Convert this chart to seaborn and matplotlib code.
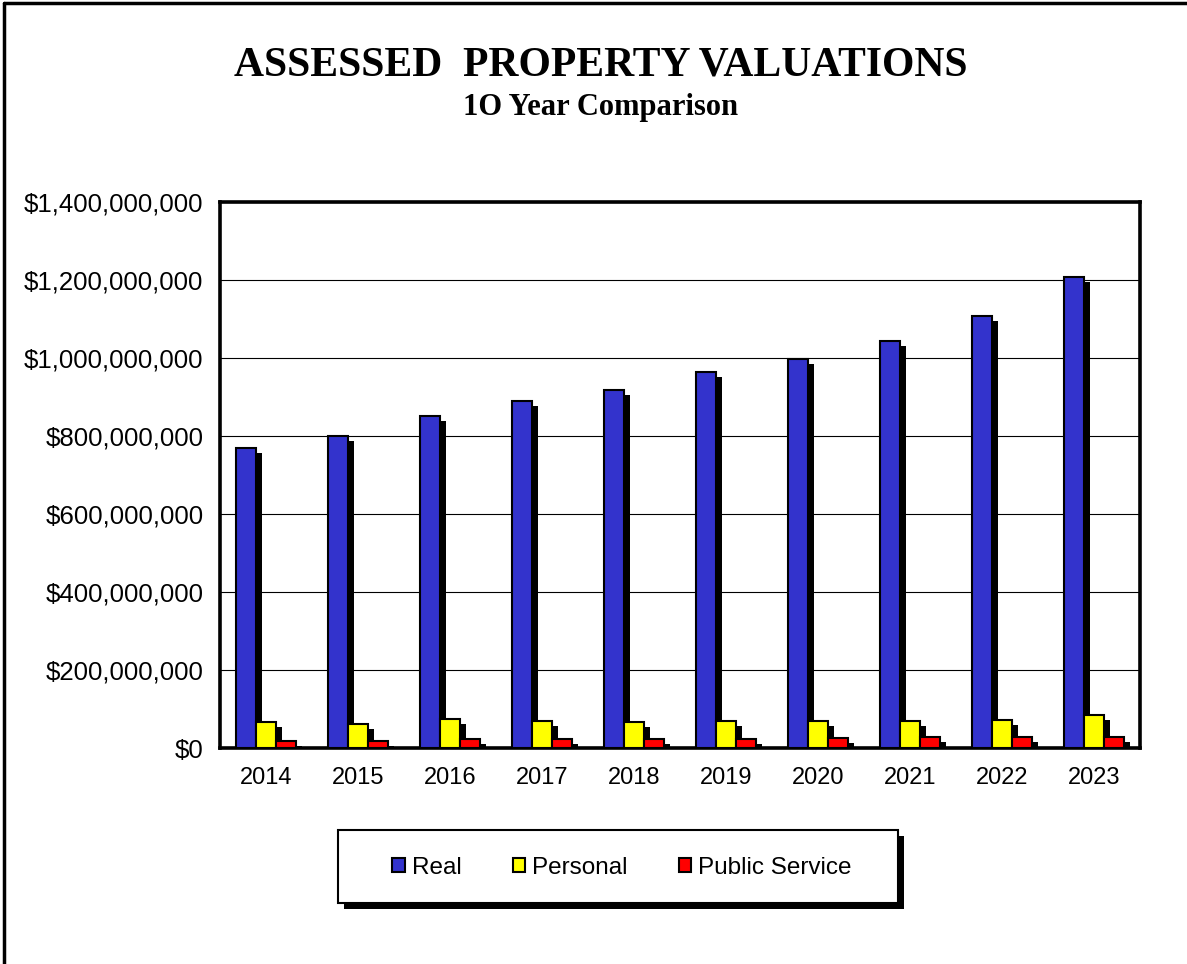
import pandas as pd
import numpy as np
import matplotlib
matplotlib.use("Agg")
import matplotlib.pyplot as plt
import matplotlib.transforms as mtransforms
from matplotlib.patches import Rectangle, Patch
from matplotlib.lines import Line2D
from matplotlib.ticker import StrMethodFormatter, FixedLocator
import seaborn as sns

# data
years = ["2014", "2015", "2016", "2017", "2018", "2019", "2020", "2021", "2022", "2023"]
real = [770e6, 800e6, 851e6, 890e6, 918e6, 964e6, 997e6, 1044e6, 1108e6, 1208e6]
personal = [67e6, 62e6, 75e6, 68e6, 67e6, 68e6, 70e6, 68e6, 72e6, 85e6]
public_service = [18e6, 18e6, 23e6, 23e6, 23e6, 23e6, 26e6, 29e6, 29e6, 29e6]
series = ["Real", "Personal", "Public Service"]
colors = ["#3333CC", "#FFFF00", "#FF0000"]

df = pd.DataFrame({
    "Year": years * 3,
    "Series": [s for s in series for _ in years],
    "Value": real + personal + public_service,
})

sns.set_style("white")
plt.rcParams["font.family"] = ["Liberation Sans", "DejaVu Sans"]
plt.rcParams["text.color"] = "black"

W, H = 1187, 964
fig = plt.figure(figsize=(W / 100, H / 100), dpi=100)
ax = fig.add_axes([220 / W, 1 - 748 / H, 920 / W, 546 / H])

sns.barplot(data=df, x="Year", y="Value", hue="Series", palette=colors,
            saturation=1, width=0.65, edgecolor="black", linewidth=1.5,
            legend=False, ax=ax, zorder=3)

# drop shadows behind each bar
shift = mtransforms.ScaledTranslation(6 / 100, -5 / 100, fig.dpi_scale_trans)
for cont in ax.containers:
    for bar in cont:
        ax.add_patch(Rectangle((bar.get_x(), bar.get_y()), bar.get_width(), bar.get_height(),
                               transform=ax.transData + shift, facecolor="black",
                               edgecolor="none", zorder=2))

ax.set_ylim(0, 1.4e9)
ax.set_xlim(-0.5, len(years) - 0.5)
ax.set_yticks(np.arange(0, 1.4e9 + 1, 2e8))
ax.yaxis.set_major_formatter(StrMethodFormatter("${x:,.0f}"))
ax.yaxis.grid(True, color="black", lw=0.8)
ax.set_axisbelow(True)
ax.set_xlabel("")
ax.set_ylabel("")

ax.xaxis.set_minor_locator(FixedLocator(np.arange(-0.5, len(years), 1.0)))
ax.tick_params(axis="x", which="major", length=0, pad=14, labelsize=17)
ax.tick_params(axis="x", which="minor", length=7, width=1.3, color="black", direction="out")
ax.tick_params(axis="y", length=5, width=1.3, color="black", direction="out", pad=7, labelsize=18.6)
ax.tick_params(axis="both", labelcolor="black")

for sp in ax.spines.values():
    sp.set_visible(True)
    sp.set_color("black")
    sp.set_linewidth(2.6)

# titles
fig.text(601 / W, 1 - 65 / H, "ASSESSED  PROPERTY VALUATIONS", family=["Liberation Serif"],
         weight="bold", size=30, ha="center", va="center", color="black")
fig.text(601 / W, 1 - 107 / H, "1O Year Comparison", family=["Liberation Serif"],
         weight="bold", size=22, ha="center", va="center", color="black")

# outer border (top and left only)
fig.add_artist(Line2D([4 / W, 4 / W], [0, 1 - 3 / H], transform=fig.transFigure, color="black", lw=2.5))
fig.add_artist(Line2D([4 / W, 1], [1 - 3 / H, 1 - 3 / H], transform=fig.transFigure, color="black", lw=2.5))

# legend box with shadow
lx, ly, lw, lh = 338, 830, 560, 73
fig.add_artist(Rectangle(((lx + 6) / W, 1 - (ly + lh + 6) / H), lw / W, lh / H,
                         transform=fig.transFigure, facecolor="black", edgecolor="none", zorder=4))
fig.add_artist(Rectangle((lx / W, 1 - (ly + lh) / H), lw / W, lh / H,
                         transform=fig.transFigure, facecolor="white", edgecolor="black",
                         lw=1.5, zorder=4.5))
handles = [Patch(facecolor=c, edgecolor="black", lw=1.5) for c in colors]
leg = fig.legend(handles, series, loc="center", bbox_to_anchor=(622 / W, 1 - 868 / H),
                 ncol=3, frameon=False, fontsize=17.5, handlelength=0.5, handleheight=0.5,
                 handletextpad=0.3, columnspacing=2.1, labelcolor="black")
leg.set_zorder(5)

fig.savefig("out.png", dpi=100)
